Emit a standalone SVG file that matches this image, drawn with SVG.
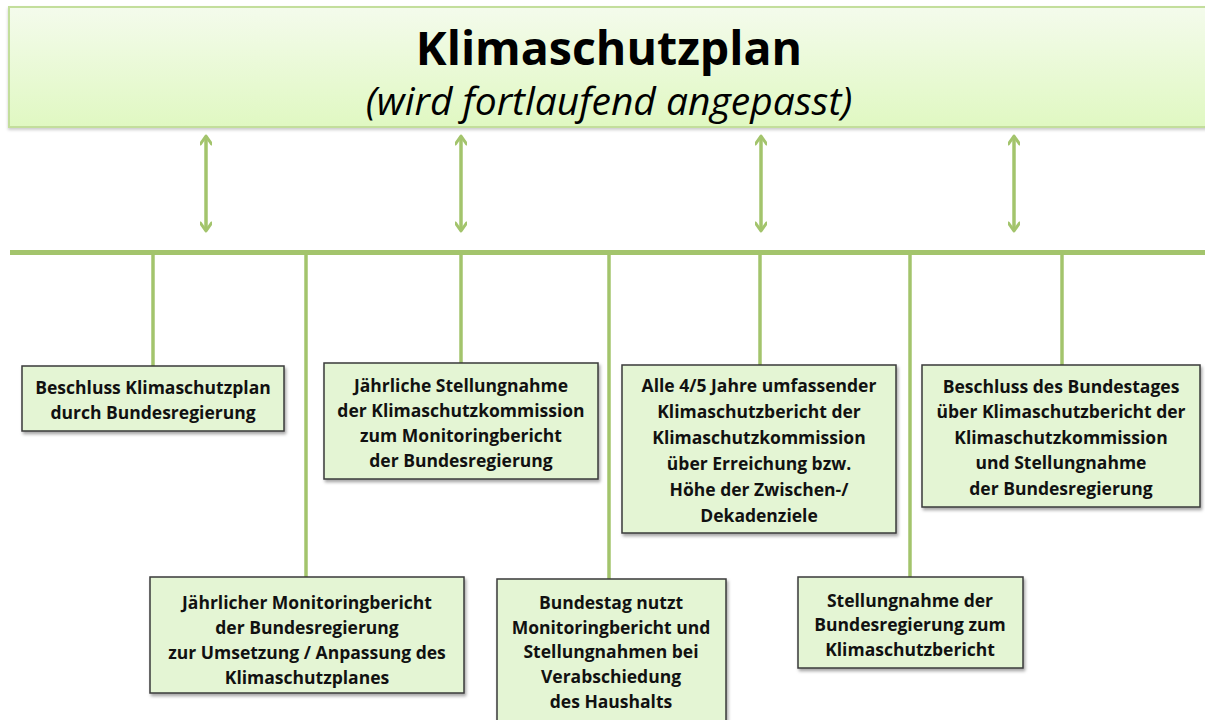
<svg xmlns="http://www.w3.org/2000/svg" width="1205" height="720" viewBox="0 0 1205 720">
<defs>
<linearGradient id="hdr" x1="0" y1="0" x2="0" y2="1">
<stop offset="0" stop-color="#f4fbec"/>
<stop offset="1" stop-color="#e0f8c2"/>
</linearGradient>
<filter id="sh" x="-10%" y="-10%" width="120%" height="130%">
<feDropShadow dx="1.5" dy="2.5" stdDeviation="1.8" flood-color="#000" flood-opacity="0.35"/>
</filter>
<filter id="sh2" x="-5%" y="-10%" width="110%" height="130%">
<feDropShadow dx="0" dy="2" stdDeviation="1.5" flood-color="#000" flood-opacity="0.2"/>
</filter>
<marker id="ah" viewBox="0 0 12 12" refX="10" refY="6" markerWidth="12" markerHeight="12" markerUnits="userSpaceOnUse" orient="auto-start-reverse">
<path d="M2,0.5 L10,6 L2,11.5" fill="none" stroke="#a3c46c" stroke-width="3" stroke-linecap="round" stroke-linejoin="round"/>
</marker>
</defs>
<style>
.box{fill:#e4f5d4;stroke:#3a3a3a;stroke-width:1.5;filter:url(#sh)}
.t{font-family:"Open Sans","Liberation Sans",sans-serif;font-weight:700;font-size:17.5px;fill:#111;text-anchor:middle}
.ln{stroke:#a3c46c;stroke-width:3.5;fill:none}
.ar{stroke:#a3c46c;stroke-width:3.5;fill:none;marker-start:url(#ah);marker-end:url(#ah)}
</style>
<rect width="1205" height="720" fill="#fff"/>
<g id="header">
<rect x="9" y="7" width="1200" height="120" fill="url(#hdr)" stroke="#c3de9c" stroke-width="2" filter="url(#sh2)"/>
<text x="609" y="65" font-family="'Open Sans','Liberation Sans',sans-serif" font-weight="700" font-size="46.5" text-anchor="middle" fill="#000">Klimaschutzplan</text>
<text x="609" y="115" font-family="'Open Sans','Liberation Sans',sans-serif" font-style="italic" font-size="39" text-anchor="middle" fill="#000">(wird fortlaufend angepasst)</text>
</g>
<g id="connectors">
<line class="ar" x1="206" y1="136" x2="206" y2="231"/>
<line class="ar" x1="461" y1="136" x2="461" y2="231"/>
<line class="ar" x1="761" y1="136" x2="761" y2="231"/>
<line class="ar" x1="1014" y1="136" x2="1014" y2="231"/>
<line x1="10" y1="252.5" x2="1205" y2="252.5" stroke="#a3c46c" stroke-width="5"/>
<line class="ln" x1="153" y1="252" x2="153" y2="366"/>
<line class="ln" x1="306" y1="252" x2="306" y2="577"/>
<line class="ln" x1="461" y1="252" x2="461" y2="363"/>
<line class="ln" x1="609" y1="252" x2="609" y2="579"/>
<line class="ln" x1="760" y1="252" x2="760" y2="365"/>
<line class="ln" x1="910" y1="252" x2="910" y2="577"/>
<line class="ln" x1="1062" y1="252" x2="1062" y2="365"/>
</g>
<g id="node1">
<rect class="box" x="22" y="366" width="262" height="65"/>
<text class="t" x="153" y="394">Beschluss Klimaschutzplan</text>
<text class="t" x="153" y="419">durch Bundesregierung</text>
</g>
<g id="node2">
<rect class="box" x="150" y="577" width="314" height="116"/>
<text class="t" x="307" y="609">Jährlicher Monitoringbericht</text>
<text class="t" x="307" y="634">der Bundesregierung</text>
<text class="t" x="307" y="659">zur Umsetzung / Anpassung des</text>
<text class="t" x="307" y="684">Klimaschutzplanes</text>
</g>
<g id="node3">
<rect class="box" x="324" y="363" width="274" height="116"/>
<text class="t" x="461" y="392">Jährliche Stellungnahme</text>
<text class="t" x="461" y="417">der Klimaschutzkommission</text>
<text class="t" x="461" y="442">zum Monitoringbericht</text>
<text class="t" x="461" y="467">der Bundesregierung</text>
</g>
<g id="node4">
<rect class="box" x="497" y="579" width="229" height="142"/>
<text class="t" x="611" y="609">Bundestag nutzt</text>
<text class="t" x="611" y="634">Monitoringbericht und</text>
<text class="t" x="611" y="658">Stellungnahmen bei</text>
<text class="t" x="611" y="683">Verabschiedung</text>
<text class="t" x="611" y="708">des Haushalts</text>
</g>
<g id="node5">
<rect class="box" x="622" y="365" width="274" height="168"/>
<text class="t" x="759" y="392">Alle 4/5 Jahre umfassender</text>
<text class="t" x="759" y="418">Klimaschutzbericht der</text>
<text class="t" x="759" y="444">Klimaschutzkommission</text>
<text class="t" x="759" y="470">über Erreichung bzw.</text>
<text class="t" x="759" y="496">Höhe der Zwischen-/</text>
<text class="t" x="759" y="522">Dekadenziele</text>
</g>
<g id="node6">
<rect class="box" x="798" y="577" width="225" height="91"/>
<text class="t" x="910" y="607">Stellungnahme der</text>
<text class="t" x="910" y="631">Bundesregierung zum</text>
<text class="t" x="910" y="656">Klimaschutzbericht</text>
</g>
<g id="node7">
<rect class="box" x="922" y="365" width="278" height="142"/>
<text class="t" x="1061" y="393">Beschluss des Bundestages</text>
<text class="t" x="1061" y="418">über Klimaschutzbericht der</text>
<text class="t" x="1061" y="444">Klimaschutzkommission</text>
<text class="t" x="1061" y="469">und Stellungnahme</text>
<text class="t" x="1061" y="495">der Bundesregierung</text>
</g>
</svg>
